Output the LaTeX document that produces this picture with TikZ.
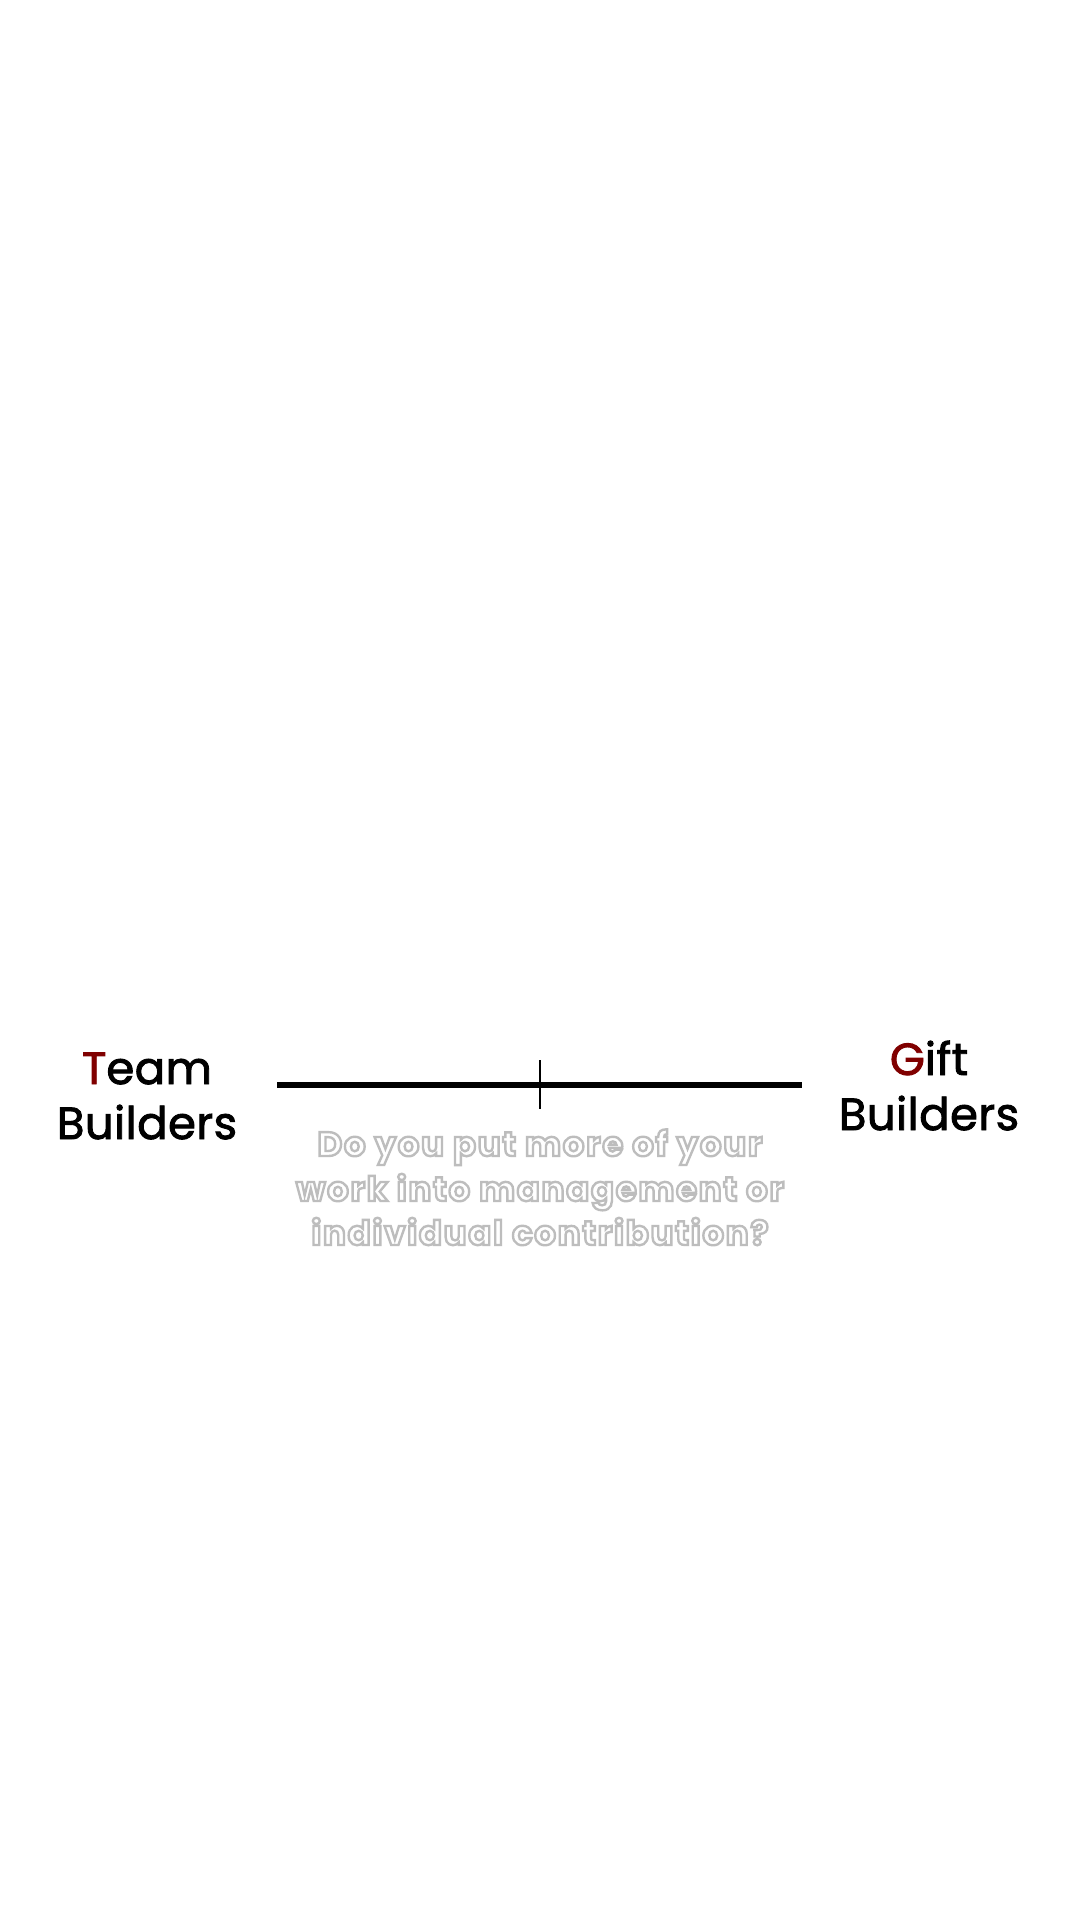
\documentclass[tikz,border=0pt]{standalone}
\usepackage{fontspec}
\setmainfont{Poppins}
\newfontfamily\lblfont{Poppins}[LetterSpace=1, FakeBold=2]
\newfontfamily\qfont{Poppins}[LetterSpace=5, BoldFeatures={FakeBold=7}]
\definecolor{tgred}{RGB}{128,0,0}
\newcommand{\haloon}{\special{pdf:bcolor [1] [0.74]}}
\newcommand{\halooff}{\special{pdf:ecolor}}
\begin{document}
\begin{tikzpicture}[x=1pt,y=-1pt,
  lbl/.style={font=\lblfont\fontsize{45}{55}\selectfont, inner sep=0pt, anchor=base},
  qtext/.style={font=\qfont\bfseries\fontsize{34}{45}\selectfont, inner sep=0pt, anchor=base},
  axis/.style={line width=6.5pt},
  tickmark/.style={line width=2pt}]
\useasboundingbox[fill=white] (0,0) rectangle (1080,1920);
% labels
\node[lbl] (team) at (147,1084) {\textcolor{tgred}{T}eam};
\node[lbl] (teamb) at (147,1139) {Builders};
\node[lbl] (gift) at (929,1075) {\textcolor{tgred}{G}ift};
\node[lbl] (giftb) at (929,1130) {Builders};
% axis
\coordinate (L) at (277,1085);
\coordinate (R) at (802,1085);
\coordinate (Tt) at (540,1060);
\coordinate (Tb) at (540,1109);
\draw[axis] (L) -- (R);
\draw[tickmark] (Tt) -- (Tb);
% question: white letters with a light grey halo
\node[qtext] (q1) at (540,1156) {\haloon Do you put more of your\halooff};
\node[qtext] (q2) at (540,1201) {\haloon work into management or\halooff};
\node[qtext] (q3) at (540,1245) {\haloon individual contribution?\halooff};
\end{tikzpicture}
\end{document}
